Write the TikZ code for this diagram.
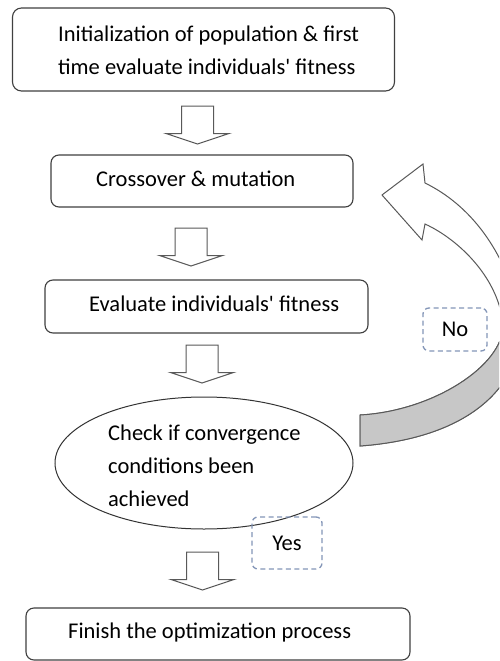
\documentclass[tikz,border=0pt]{standalone}
\usepackage{fontspec}
\setmainfont{Carlito}
\usetikzlibrary{shapes.geometric}

\definecolor{tagblue}{RGB}{132,150,184}

\tikzset{
  boxstyle/.style={draw=black!75, line width=1.1pt, rounded corners=9pt,
    fill=white, inner sep=0pt},
  ovalstyle/.style={ellipse, draw=black!80, line width=1pt, inner sep=0pt},
  labeltext/.style={inner sep=0pt, anchor=west, align=left,
    font=\fontsize{22.5}{33}\selectfont, text=black},
  tagbox/.style={draw=tagblue, dash pattern=on 5pt off 3.5pt,
    line width=1.3pt, rounded corners=6pt, inner sep=0pt,
    font=\fontsize{22.5}{33}\selectfont},
  arrowline/.style={draw=black!65, line width=1pt, line join=miter},
  backface/.style={fill=black!22},
}

% Down-pointing block arrow: centre x, top y
\newcommand{\downblock}[2]{%
  \draw[arrowline, fill=white]
    (#1-16,#2) -- (#1+16,#2) -- (#1+16,#2+27.5) -- (#1+31.5,#2+27.5)
    -- (#1,#2+38) -- (#1-31.5,#2+27.5) -- (#1-16,#2+27.5) -- cycle;}

\newcommand{\sq}{\textquotesingle}

\begin{document}
\begin{tikzpicture}[x=1pt, y=-1pt]
  \clip (0,0) rectangle (499,661);
  \fill[white] (0,0) rectangle (499,661);

  % process boxes
  \node[boxstyle, minimum width=382pt, minimum height=83pt] (init) at (203.5,49.5) {};
  \node[boxstyle, rounded corners=8pt, minimum width=302pt, minimum height=52pt] (cross) at (202,181) {};
  \node[boxstyle, rounded corners=8pt, minimum width=323pt, minimum height=53pt] (eval) at (206.5,306.5) {};
  \node[ovalstyle, minimum width=298pt, minimum height=132pt] (check) at (204,463) {};
  \node[boxstyle, rounded corners=8pt, minimum width=384pt, minimum height=52pt] (finish) at (218,634) {};

  % box texts
  \node[labeltext] (initT) at (58,50) {Initialization of population \& first\\time evaluate individuals\sq{} fitness};
  \node[labeltext] (crossT) at (96,179) {Crossover \& mutation};
  \node[labeltext] (evalT) at (89,304) {Evaluate individuals\sq{} fitness};
  \node[labeltext] (checkT) at (108,466) {Check if convergence\\conditions been\\achieved};
  \node[labeltext] (finishT) at (68,632) {Finish the optimization process};

  % block arrows between the steps
  \downblock{197.5}{106}
  \downblock{191}{228}
  \downblock{202}{345}
  \downblock{202.5}{552}

  % curved loop arrow: front face
  \draw[arrowline, fill=white]
    (425,183) .. controls (470,205) and (505,250) .. (520,315)
    .. controls (527,375) and (482,437) .. (360,446)
    -- (360,415)
    .. controls (434,411) and (503,365) .. (503,326)
    .. controls (500,280) and (460,240) .. (425,224)
    -- (422,240) -- (382,195) -- (423,164) -- cycle;
  % curved loop arrow: back face near the tail
  \draw[arrowline, backface]
    (520,315) .. controls (527,375) and (482,437) .. (360,446)
    -- (360,415)
    .. controls (434,411) and (503,365) .. (503,326) -- cycle;

  % decision labels
  \node[tagbox, minimum width=64pt, minimum height=43pt] (no) at (455,329.5) {No};
  \node[tagbox, minimum width=70pt, minimum height=52pt] (yes) at (287,543) {Yes};
\end{tikzpicture}
\end{document}
